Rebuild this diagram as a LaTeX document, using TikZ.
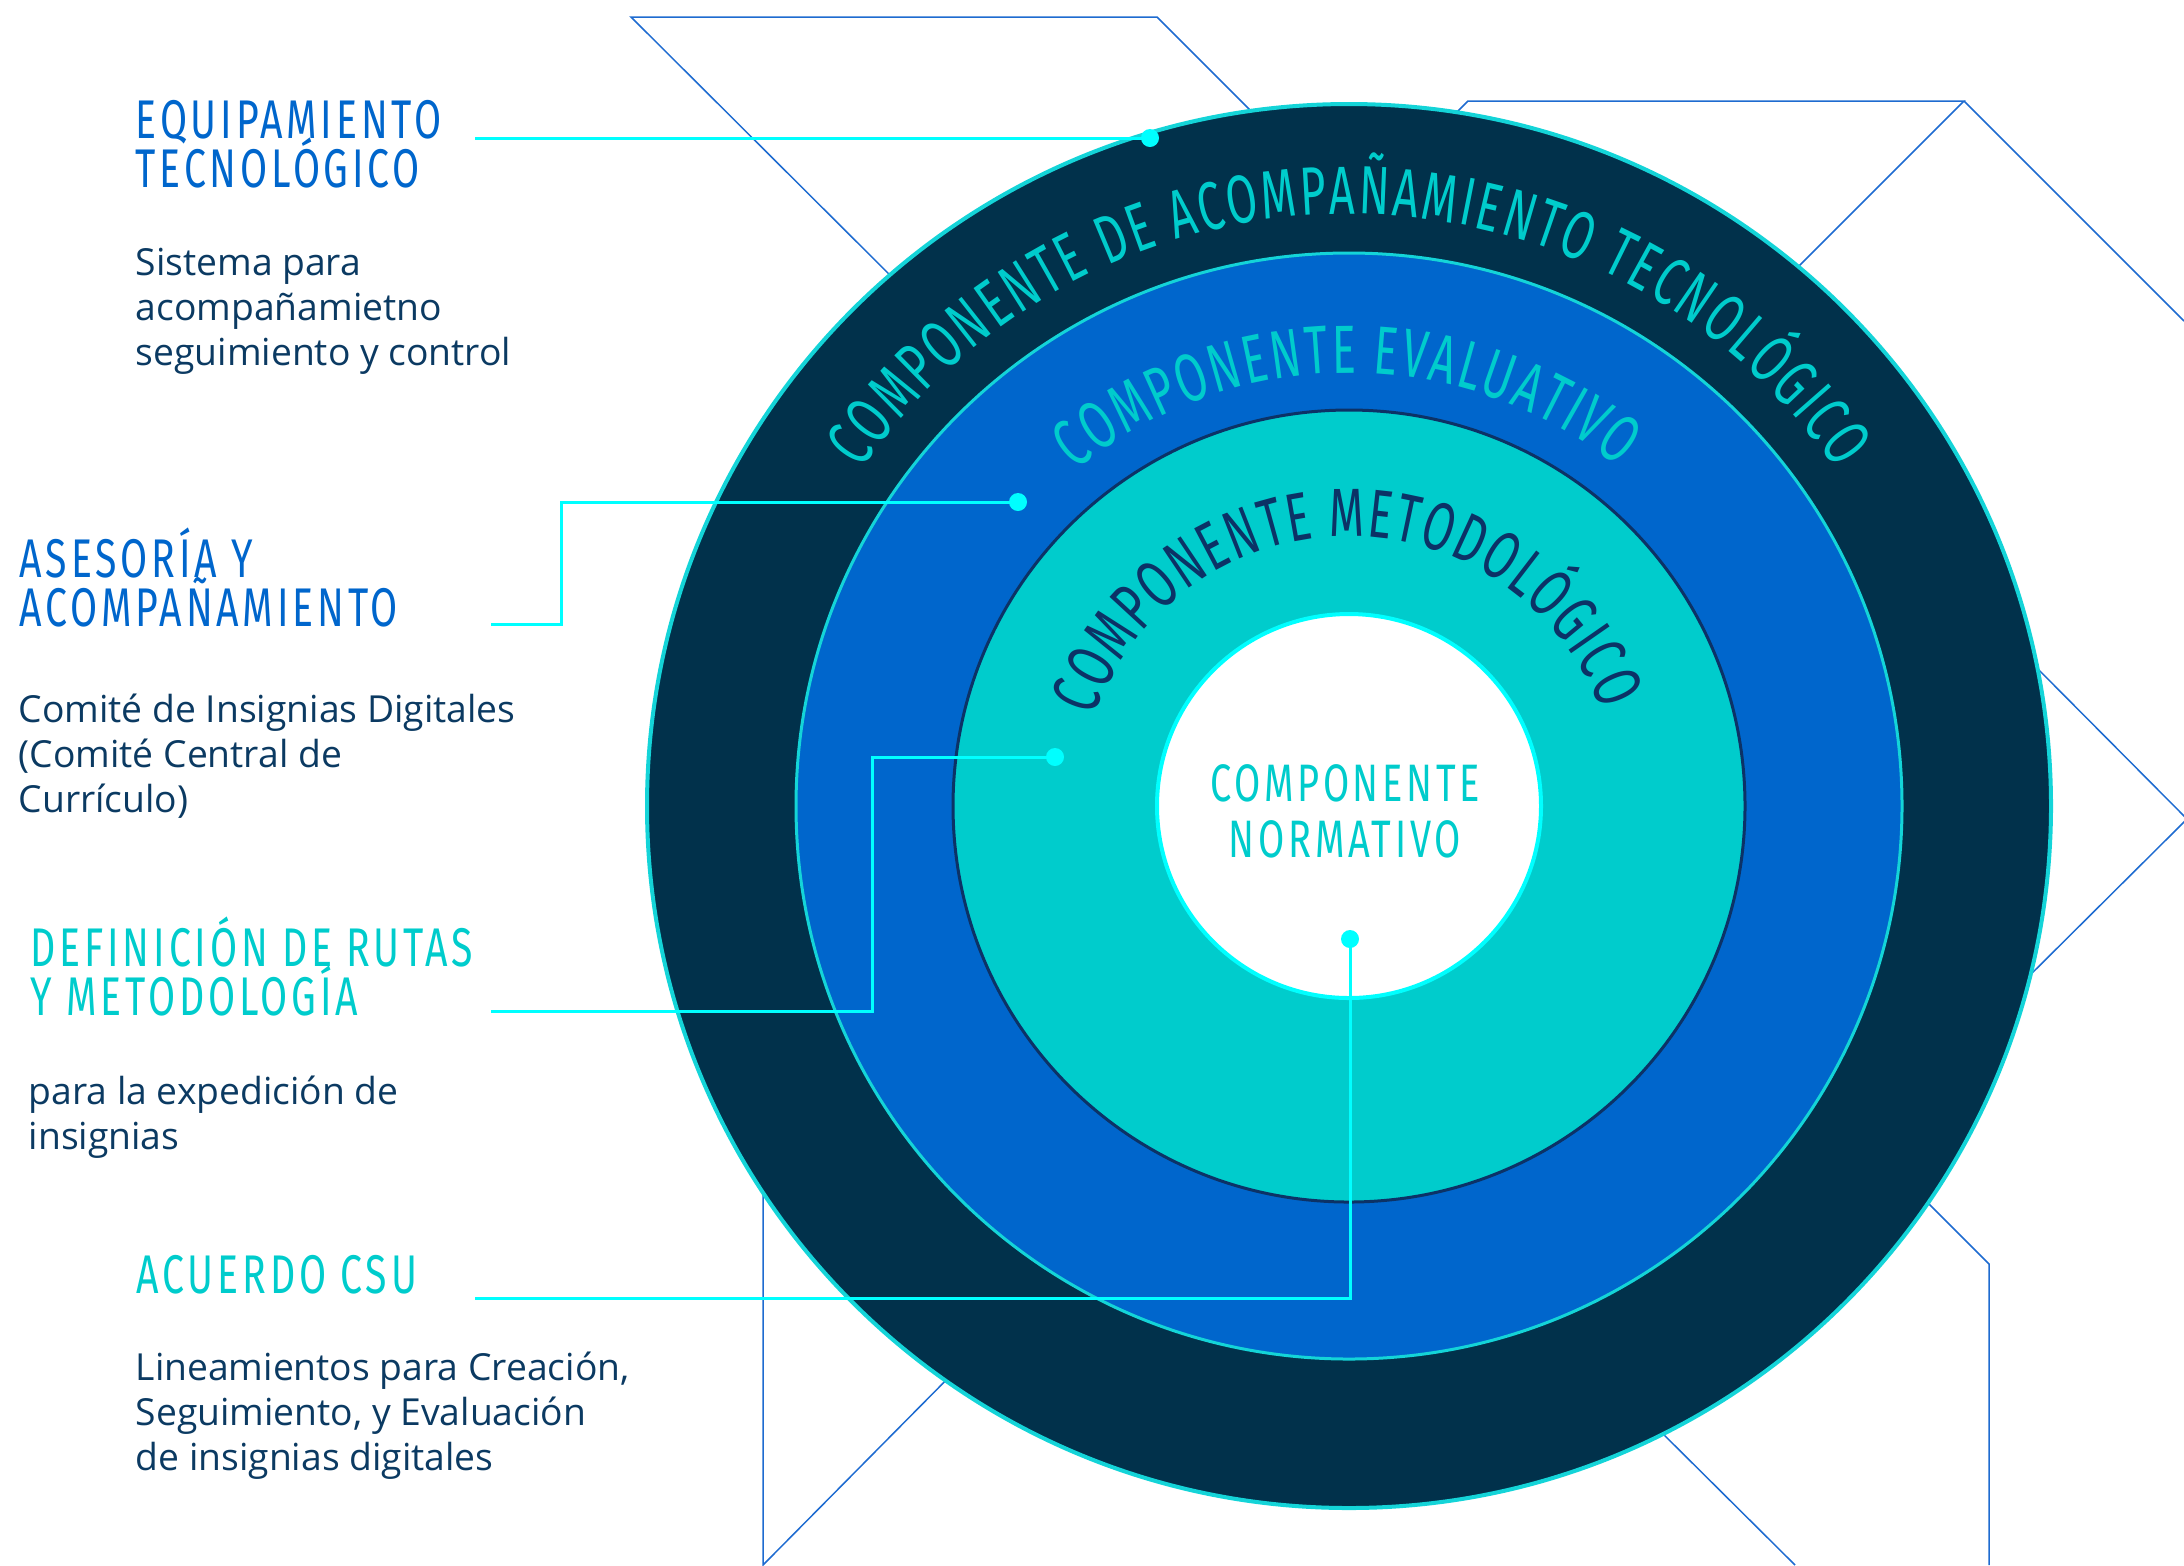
\documentclass[tikz,border=0pt]{standalone}
\usepackage{fontspec}
\setmainfont{Open Sans}
\newfontfamily\headfont[FakeStretch=0.72,LetterSpace=7]{Fira Sans}
\newfontfamily\ringfont[FakeStretch=0.66]{Fira Sans}
\usetikzlibrary{decorations.text}
\newcommand\tightlines{\lineskiplimit-100pt\relax}
\definecolor{ringnavy}{HTML}{01314B}
\definecolor{ringblue}{HTML}{0066CC}
\definecolor{ringteal}{HTML}{00CCCC}
\definecolor{edgecyan}{HTML}{14D4D8}
\definecolor{edgenavy}{HTML}{0C3266}
\definecolor{linkcyan}{HTML}{00FFFF}
\definecolor{decoblue}{HTML}{1E6BD0}
\definecolor{bodynavy}{HTML}{0B3A62}
\tikzset{
  deco/.style={draw=decoblue,line width=0.15mm},
  link/.style={draw=linkcyan,line width=0.3mm},
  dot/.style={circle,fill=linkcyan,inner sep=0pt,minimum size=1.8mm},
  head/.style={anchor=base west,inner sep=0pt,align=left,
    font={\headfont\fontsize{15.5}{13.7}\selectfont\tightlines}},
  body/.style={anchor=base west,inner sep=0pt,align=left,text=bodynavy,
    font={\fontsize{10.6}{12.8}\selectfont\tightlines}},
}
\begin{document}
\begin{tikzpicture}[x=0.1mm,y=0.1mm]
		\useasboundingbox (0,0) rectangle (2184,-1565);
		\coordinate (c) at (1349,-806);
		%=========== thin lines behind the rings ===========================
		\draw[deco] (910,-295)--(631,-17)--(1157,-17)--(1270,-130);
		\draw[deco] (1440,-129)--(1468,-101)--(1964,-101)--(1780,-285);
		\draw[deco] (1964,-101)--(2184,-321);
		\draw[deco] (2020,-651)--(2187,-819)--(2015,-990);
		\draw[deco] (763,-1170)--(763,-1565)--(965,-1361);
		\draw[deco] (1910,-1185)--(1989,-1264)--(1989,-1565);
		\draw[deco] (1645,-1416)--(1795,-1565);
		%=========== rings, from outside to inside ===========================
		\draw[fill=ringnavy,draw=edgecyan,line width=.4mm] (c) circle[radius=702];
		\draw[fill=ringblue,draw=edgecyan,line width=.3mm] (c) circle[radius=553];
		\draw[fill=ringteal,draw=edgenavy,line width=.3mm] (c) circle[radius=396];
		\draw[fill=white,draw=linkcyan,line width=.4mm] (c) circle[radius=192];
		%=========== ring titles ===========================
		\path[decorate,decoration={text along path,text align={fit to path},
			text={|\ringfont\fontsize{19.4}{22}\selectfont\color{ringteal}|COMPONENTE DE ACOMPAÑAMIENTO TECNOLÓGICO}}]
			(c) ++(145.4:592) arc[start angle=145.4,end angle=34.6,radius=592];
		\path[decorate,decoration={text along path,text align={fit to path},
			text={|\ringfont\fontsize{19.4}{22}\selectfont\color{ringteal}|COMPONENTE EVALUATIVO}}]
			(c) ++(129.2:433) arc[start angle=129.2,end angle=51.5,radius=433];
		\path[decorate,decoration={text along path,text align={fit to path},
			text={|\ringfont\fontsize{19.4}{22}\selectfont\color{edgenavy}|COMPONENTE METODOLÓGICO}}]
			(c) ++(160.7:270) arc[start angle=160.7,end angle=20.7,radius=270];
		\node[head,anchor=base,align=center,text=ringteal,
			font={\headfont\fontsize{15}{15.9}\selectfont\tightlines}]
			(norma) at (1345,-857) {COMPONENTE\\NORMATIVO};
		%=========== dots and links ===========================
		\node[dot] (d1) at (1150,-138) {};
		\node[dot] (d2) at (1018,-502) {};
		\node[dot] (d3) at (1055,-757) {};
		\node[dot] (d4) at (1350,-939) {};
		\coordinate (e1) at (475,-138);
		\coordinate (k2) at (561,-624);
		\coordinate (e2) at (491,-624);
		\coordinate (k3) at (872,-1011);
		\coordinate (e3) at (491,-1011);
		\coordinate (e4) at (475,-1298);
		\draw[link] (d1.center)--(e1);
		\draw[link] (d2.center)-|(k2)--(e2);
		\draw[link] (d3.center)-|(k3)--(e3);
		\draw[link] (d4.center)|-(e4);
		%=========== labels on the left, from top to bottom ===========================
		\node[head,text=ringblue] (equipo) at (135,-187) {EQUIPAMIENTO\\TECNOLÓGICO};
		\node[body] (sistema) at (135,-365) {Sistema para\\acompañamietno\\seguimiento y control};
		\node[head,text=ringblue] (asesoria) at (19,-626) {ASESORÍA Y\\ACOMPAÑAMIENTO};
		\node[body] (comite) at (18,-812) {Comité de Insignias Digitales\\(Comité Central de\\Currículo)};
		\node[head,text=ringteal] (rutas) at (30,-1015) {DEFINICIÓN DE RUTAS\\Y METODOLOGÍA};
		\node[body] (expedir) at (28,-1149) {para la expedición de\\insignias};
		\node[head,text=ringteal] (acuerdo) at (136,-1293) {ACUERDO CSU};
		\node[body] (lineas) at (135,-1470) {Lineamientos para Creación,\\Seguimiento, y Evaluación\\de insignias digitales};
	\end{tikzpicture}
\end{document}
